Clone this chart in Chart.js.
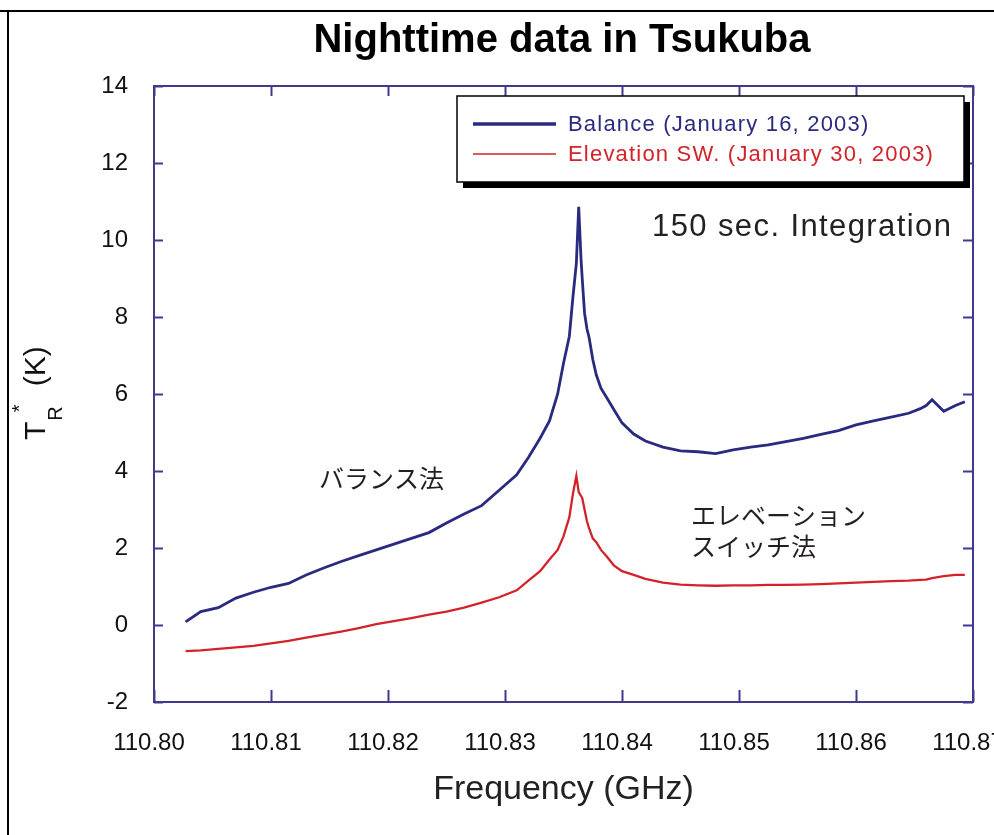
<!DOCTYPE html>
<html>
<head>
<meta charset="utf-8">
<script src="https://cdn.jsdelivr.net/npm/chart.js@4/dist/chart.umd.min.js"></script>
<style>
  html, body { margin: 0; padding: 0; background: #fff; }
  canvas { display: block; }
</style>
</head>
<body>
<canvas id="c" width="994" height="835"></canvas>
<script>
// ---- data ----
const freqGHz = [
  110.8027, 110.8040, 110.8055, 110.8070, 110.8085, 110.8100, 110.8115, 110.8130, 110.8145, 110.8160,
  110.8175, 110.8190, 110.8205, 110.8220, 110.8235, 110.8250, 110.8265, 110.8280, 110.8295, 110.8310,
  110.8320, 110.8330, 110.8338, 110.8345, 110.8350, 110.8355, 110.8358, 110.8361, 110.8363, 110.8365,
  110.8366, 110.8368, 110.8370, 110.8372, 110.8375, 110.8378, 110.8382, 110.8387, 110.8393, 110.8400,
  110.8410, 110.8420, 110.8435, 110.8450, 110.8465, 110.8480, 110.8495, 110.8510, 110.8525, 110.8540,
  110.8555, 110.8570, 110.8585, 110.8600, 110.8615, 110.8630, 110.8645, 110.8655, 110.8660, 110.8665,
  110.8675, 110.8685, 110.8693
];
const balanceK = [
  0.08, 0.35, 0.45, 0.70, 0.85, 0.98, 1.08, 1.30, 1.48, 1.65,
  1.80, 1.95, 2.10, 2.25, 2.40, 2.65, 2.88, 3.10, 3.50, 3.90,
  4.35, 4.85, 5.30, 6.00, 6.80, 7.50, 8.50, 9.40, 10.86, 9.50,
  9.00, 8.10, 7.70, 7.45, 6.90, 6.50, 6.15, 5.90, 5.60, 5.25,
  4.96, 4.78, 4.62, 4.52, 4.50, 4.45, 4.55, 4.62, 4.68, 4.76,
  4.85, 4.95, 5.05, 5.20, 5.30, 5.40, 5.50, 5.62, 5.70, 5.85,
  5.55, 5.70, 5.80
];
const elevationK = [
  -0.68, -0.66, -0.62, -0.58, -0.54, -0.48, -0.41, -0.33, -0.25, -0.17,
  -0.08, 0.02, 0.10, 0.18, 0.27, 0.35, 0.45, 0.58, 0.72, 0.90,
  1.15, 1.40, 1.70, 1.95, 2.30, 2.80, 3.40, 3.87, 3.45, 3.35,
  3.30, 3.00, 2.70, 2.50, 2.25, 2.15, 1.95, 1.78, 1.55, 1.40,
  1.30, 1.20, 1.10, 1.05, 1.03, 1.02, 1.03, 1.03, 1.04, 1.04,
  1.05, 1.06, 1.08, 1.10, 1.12, 1.14, 1.15, 1.17, 1.18, 1.22,
  1.27, 1.30, 1.30
];
const seriesLabels = ['Balance (January 16, 2003)', 'Elevation SW. (January 30, 2003)'];
const xTickValues = [110.80, 110.81, 110.82, 110.83, 110.84, 110.85, 110.86, 110.87];
const yTickValues = [-2, 0, 2, 4, 6, 8, 10, 12, 14];
const chartTitle = 'Nighttime data in Tsukuba';
const xAxisTitle = 'Frequency (GHz)';
const noteText = '150 sec. Integration';
const balanceNote = ['バランス法'];
const elevationNote = ['エレベーション', 'スイッチ法'];

// ---- styles ----
const BLUE = '#2a2a7e';
const RED = '#d2232a';
const FRAME = '#3f3a8e';
const FONT = '"Liberation Sans", Arial, sans-serif';
const JFONT = '"Noto Sans CJK JP", "Noto Sans CJK SC", sans-serif';
const TICK_FONT = { family: FONT, size: 24 };

const toPts = (ys) => freqGHz.map((f, i) => ({ x: f, y: ys[i] }));

const decor = {
  id: 'decor',
  beforeDraw(chart) {
    const ctx = chart.ctx;
    ctx.save();
    ctx.fillStyle = '#fff';
    ctx.fillRect(0, 0, chart.width, chart.height);
    ctx.strokeStyle = '#000';
    ctx.lineWidth = 2;
    ctx.beginPath();
    ctx.moveTo(0, 11); ctx.lineTo(chart.width, 11);
    ctx.moveTo(8, 11); ctx.lineTo(8, chart.height);
    ctx.stroke();
    // main title
    ctx.fillStyle = '#000';
    ctx.font = 'bold 40px ' + FONT;
    ctx.textAlign = 'center';
    ctx.textBaseline = 'alphabetic';
    ctx.fillText(chartTitle, 562, 52);
    ctx.restore();
  },
  beforeDatasetsDraw(chart) {
    const ctx = chart.ctx;
    const a = chart.chartArea;
    const xs = chart.scales.x, ys = chart.scales.y;
    ctx.save();
    ctx.strokeStyle = FRAME;
    ctx.lineWidth = 2;
    ctx.strokeRect(a.left, a.top, a.right - a.left, a.bottom - a.top);
    ctx.beginPath();
    xTickValues.forEach(v => {
      const px = Math.round(xs.getPixelForValue(v)) + 0.5;
      ctx.moveTo(px, a.bottom); ctx.lineTo(px, a.bottom - 12);
      ctx.moveTo(px, a.top); ctx.lineTo(px, a.top + 10);
    });
    yTickValues.forEach(v => {
      const py = Math.round(ys.getPixelForValue(v)) + 0.5;
      ctx.moveTo(a.left, py); ctx.lineTo(a.left + 9, py);
      ctx.moveTo(a.right, py); ctx.lineTo(a.right - 10, py);
    });
    ctx.stroke();
    ctx.restore();
  },
  afterDraw(chart) {
    const ctx = chart.ctx;
    const ds = chart.data.datasets;
    ctx.save();
    // legend box with shadow
    const bx = 457, by = 96, bw = 507, bh = 86;
    ctx.fillStyle = '#000';
    ctx.fillRect(bx + 6, by + 6, bw, bh);
    ctx.fillStyle = '#fff';
    ctx.fillRect(bx, by, bw, bh);
    ctx.strokeStyle = '#000';
    ctx.lineWidth = 1.5;
    ctx.strokeRect(bx, by, bw, bh);
    const rows = [{ y: 124, w: 3.5 }, { y: 154, w: 1.5 }];
    ctx.textBaseline = 'middle';
    ctx.textAlign = 'left';
    ctx.font = '22px ' + FONT;
    ctx.letterSpacing = '1.2px';
    rows.forEach((r, i) => {
      ctx.strokeStyle = ds[i].borderColor;
      ctx.lineWidth = r.w;
      ctx.beginPath(); ctx.moveTo(473, r.y); ctx.lineTo(556, r.y); ctx.stroke();
      ctx.fillStyle = ds[i].borderColor;
      ctx.fillText(ds[i].label, 568, r.y + 1);
    });
    // integration note
    ctx.font = '31px ' + FONT;
    ctx.letterSpacing = '1.4px';
    ctx.fillStyle = '#222';
    ctx.fillText(noteText, 652, 227);
    ctx.letterSpacing = '0px';
    // Japanese notes
    ctx.font = '25px ' + JFONT;
    ctx.fillStyle = '#231f20';
    balanceNote.forEach((t, i) => ctx.fillText(t, 319, 478 + i * 31));
    elevationNote.forEach((t, i) => ctx.fillText(t, 691, 515 + i * 31));
    // y-axis title T_R^* (K), rotated
    ctx.translate(45, 440);
    ctx.rotate(-Math.PI / 2);
    ctx.fillStyle = '#111';
    ctx.textBaseline = 'alphabetic';
    ctx.font = '30px ' + FONT;
    ctx.fillText('T', 0, 0);
    const w = ctx.measureText('T').width;
    ctx.font = '20px ' + FONT;
    ctx.fillText('R', w + 1, 17);
    const wr = ctx.measureText('R').width;
    ctx.fillText('*', w + wr - 5, -19);
    ctx.font = '30px ' + FONT;
    ctx.fillText('(K)', w + wr + 21, 0);
    ctx.restore();
  }
};

new Chart(document.getElementById('c'), {
  type: 'line',
  data: {
    datasets: [
      { label: seriesLabels[0], data: toPts(balanceK), borderColor: BLUE, borderWidth: 2.8,
        pointRadius: 0, tension: 0, fill: false },
      { label: seriesLabels[1], data: toPts(elevationK), borderColor: RED, borderWidth: 2.3,
        pointRadius: 0, tension: 0, fill: false }
    ]
  },
  options: {
    responsive: false,
    animation: false,
    devicePixelRatio: 1,
    layout: { padding: { top: 86, left: 0, right: 21, bottom: 0 } },
    plugins: {
      legend: { display: false },
      tooltip: { enabled: false },
      title: { display: false }
    },
    scales: {
      x: {
        type: 'linear', min: 110.80, max: 110.87,
        grid: { display: false, drawTicks: false }, border: { display: false },
        afterBuildTicks: (s) => { s.ticks = xTickValues.map(v => ({ value: v })); },
        afterFit: (s) => { s.height = 133; s.paddingLeft = 0; s.paddingRight = 0; },
        ticks: {
          autoSkip: false, maxRotation: 0, padding: 27, labelOffset: -5,
          color: '#111', font: TICK_FONT,
          callback: (v) => Number(v).toFixed(2)
        },
        title: {
          display: true, text: xAxisTitle, color: '#222',
          font: { family: FONT, size: 34 }, padding: { top: 0, bottom: 25 }
        }
      },
      y: {
        type: 'linear', min: -2, max: 14,
        grid: { display: false, drawTicks: false }, border: { display: false },
        afterBuildTicks: (s) => { s.ticks = yTickValues.map(v => ({ value: v })); },
        afterFit: (s) => { s.width = 154; s.paddingTop = 0; s.paddingBottom = 0; },
        ticks: {
          autoSkip: false, padding: 26, color: '#111',
          font: TICK_FONT
        }
      }
    }
  },
  plugins: [decor]
});
</script>
</body>
</html>
